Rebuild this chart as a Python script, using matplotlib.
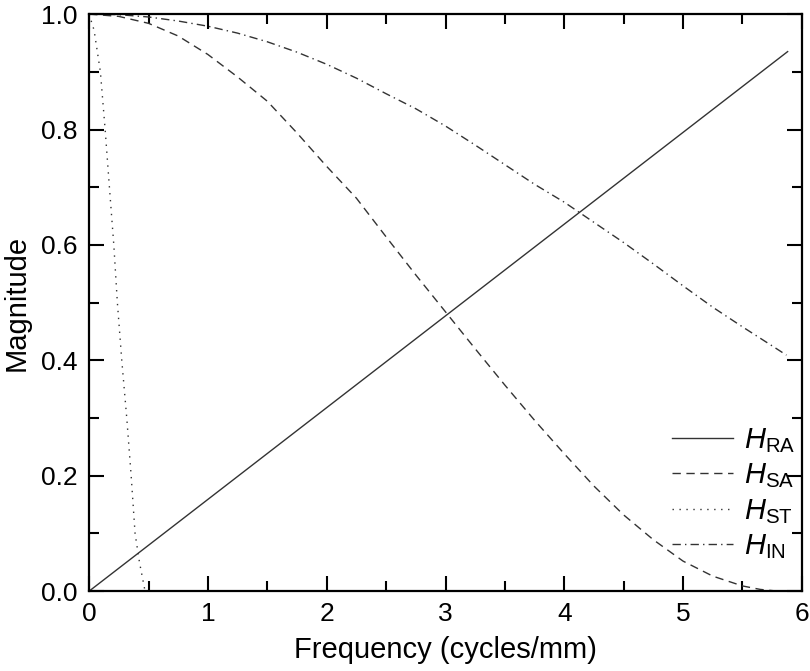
import matplotlib
matplotlib.use('Agg')
import matplotlib.pyplot as plt
from matplotlib.ticker import MultipleLocator

plt.rcParams['font.family'] = ['Liberation Sans', 'DejaVu Sans']
plt.rcParams['mathtext.fontset'] = 'custom'
plt.rcParams['mathtext.rm'] = 'Liberation Sans'
plt.rcParams['mathtext.it'] = 'Liberation Sans:italic'

# values
ra_x = [0.0, 5.88]
ra_y = [0.0, 0.935]

sa_x = [0.0, 0.25, 0.5, 0.75, 1.0, 1.25, 1.5, 1.75, 2.0, 2.25, 2.5, 2.75, 3.0,
        3.25, 3.5, 3.75, 4.0, 4.25, 4.5, 4.75, 5.0, 5.25, 5.5, 5.65, 5.8]
sa_y = [1.0, 0.996, 0.984, 0.962, 0.930, 0.891, 0.849, 0.794, 0.736, 0.681, 0.614, 0.548, 0.484,
        0.420, 0.357, 0.296, 0.238, 0.182, 0.132, 0.089, 0.052, 0.026, 0.009, 0.003, 0.0]

st_x = [0.0, 0.042, 0.095, 0.135, 0.171, 0.208, 0.238, 0.275, 0.317, 0.354, 0.387, 0.424, 0.471]
st_y = [1.0, 0.972, 0.9, 0.8, 0.7, 0.6, 0.5, 0.4, 0.3, 0.2, 0.1, 0.05, 0.0]

in_x = [0.0, 0.25, 0.5, 0.75, 1.0, 1.25, 1.5, 1.75, 2.0, 2.25, 2.5, 2.75, 3.0,
        3.25, 3.5, 3.75, 4.0, 4.25, 4.5, 4.75, 5.0, 5.25, 5.5, 5.75, 5.87]
in_y = [1.0, 0.999, 0.995, 0.988, 0.979, 0.967, 0.952, 0.934, 0.913, 0.889, 0.862, 0.836, 0.806,
        0.773, 0.739, 0.705, 0.674, 0.639, 0.604, 0.567, 0.529, 0.492, 0.458, 0.425, 0.409]

labels = [r'$\mathit{H}_{\mathrm{RA}}$', r'$\mathit{H}_{\mathrm{SA}}$',
          r'$\mathit{H}_{\mathrm{ST}}$', r'$\mathit{H}_{\mathrm{IN}}$']

fig = plt.figure(figsize=(8.1, 6.71), dpi=100)
ax = fig.add_axes([0.110, 0.119, 0.880, 0.860])

col = '#333333'
ax.plot(ra_x, ra_y, color=col, lw=1.0, ls='-', label=labels[0])
ax.plot(sa_x, sa_y, color=col, lw=1.0, ls=(0, (6, 4)), label=labels[1])
ax.plot(st_x, st_y, color=col, lw=1.0, ls=(0, (1, 4)), label=labels[2])
ax.plot(in_x, in_y, color=col, lw=1.0, ls=(0, (6, 3, 1, 3)), label=labels[3])

ax.set_xlim(0, 6)
ax.set_ylim(0, 1.0)
ax.xaxis.set_major_locator(MultipleLocator(1))
ax.xaxis.set_minor_locator(MultipleLocator(0.5))
ax.yaxis.set_major_locator(MultipleLocator(0.2))
ax.yaxis.set_minor_locator(MultipleLocator(0.1))
ax.set_yticklabels(['%.1f' % v for v in ax.get_yticks()])

ax.tick_params(which='both', direction='in', top=True, right=True, width=1.5, labelsize=19, pad=8)
ax.tick_params(which='major', length=11)
ax.tick_params(which='minor', length=7)
for s in ax.spines.values():
    s.set_linewidth(1.6)

ax.set_xlabel('Frequency (cycles/mm)', fontsize=21, labelpad=7)
ax.set_ylabel('Magnitude', fontsize=21, labelpad=8)

leg = ax.legend(loc='lower right', frameon=False, fontsize=21, handlelength=2.1,
                handletextpad=0.4, labelspacing=0.22, borderaxespad=0.3,
                bbox_to_anchor=(1.02, 0.017))

fig.savefig('out.png', dpi=100)
